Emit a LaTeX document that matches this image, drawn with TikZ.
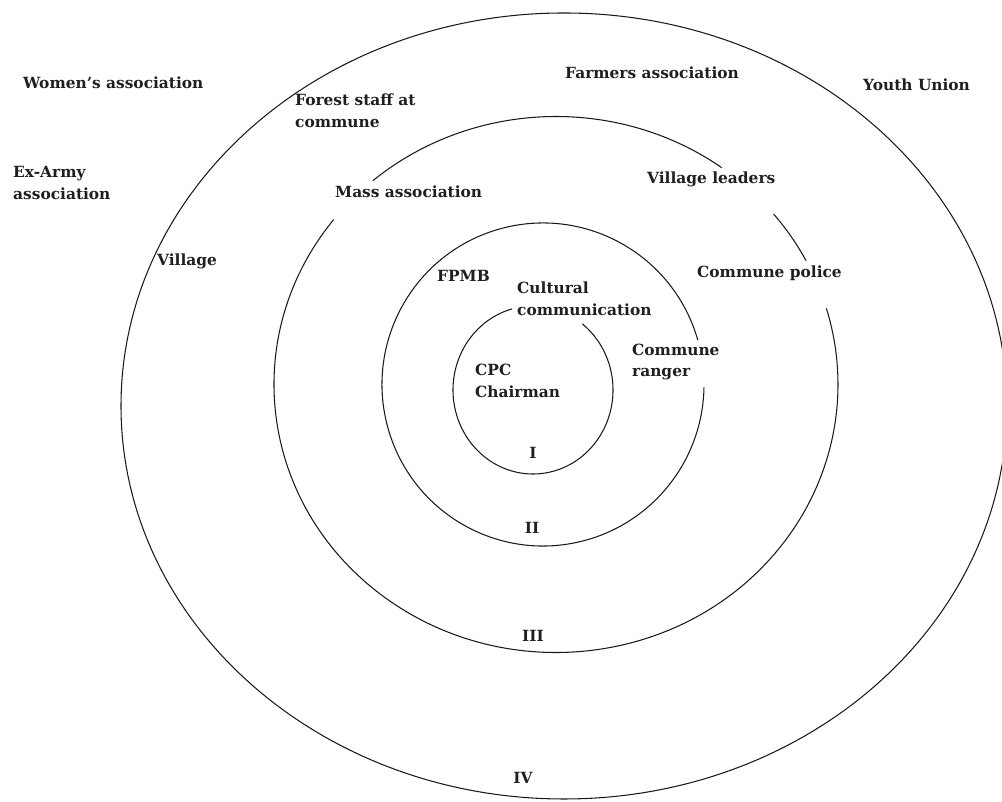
\documentclass[tikz,border=0pt]{standalone}
\usepackage{fontspec}
\setmainfont{DejaVu Serif}
\begin{document}
\begin{tikzpicture}[x=1pt,y=1pt,
  ring/.style={line width=1.05pt, draw=black!90},
  lbl/.style={inner sep=0pt, anchor=west, align=left, text=black!88,
    font=\bfseries\fontsize{15.4}{21.5}\selectfont},
  num/.style={inner sep=0pt, anchor=center, text=black!88,
    font=\bfseries\fontsize{15.4}{21.5}\selectfont}]
\useasboundingbox (0,0) rectangle (1002,802);
\clip (0,0) rectangle (1002,802);

% ring centres
\coordinate (cI)   at (533,412);
\coordinate (cII)  at (543,417.5);
\coordinate (cIII) at (556,417.5);
\coordinate (cIV)  at (564,396);

% ring I (open at the top for the label)
\draw[ring] (cI) ++(105:80 and 84) arc[start angle=105, end angle=412, x radius=80, y radius=84];
% ring II (open on the right)
\draw[ring] (cII) ++(16:161 and 161.5) arc[start angle=16, end angle=359, x radius=161, y radius=161.5];
% ring III (three openings)
\draw[ring] (cIII) ++(142:282 and 268) arc[start angle=142, end angle=376.5, x radius=282, y radius=268];
\draw[ring] (cIII) ++(27.5:282 and 268) arc[start angle=27.5, end angle=39.5, x radius=282, y radius=268];
\draw[ring] (cIII) ++(54:282 and 268) arc[start angle=54, end angle=130.5, x radius=282, y radius=268];
% ring IV
\draw[ring] (cIV) ellipse[x radius=443, y radius=393];

% labels
\node[lbl] (women)   at (23,719)   {Women's association};
\node[lbl] (exarmy)  at (13,619)   {Ex-Army\\association};
\node[lbl] (forest)  at (295,691)  {Forest staff at\\commune};
\node[lbl] (mass)    at (335,610)  {Mass association};
\node[lbl] (village) at (157,541)  {Village};
\node[lbl] (fpmb)    at (437,526)  {FPMB};
\node[lbl] (farmers) at (565,729)  {Farmers association};
\node[lbl] (youth)   at (863,717)  {Youth Union};
\node[lbl] (vleader) at (647,623)  {Village leaders};
\node[lbl] (police)  at (697,529)  {Commune police};
\node[lbl] (culture) at (517,503)  {Cultural\\communication};
\node[lbl] (ranger)  at (632,440)  {Commune\\ranger};
\node[lbl] (cpc)     at (475,421)  {CPC\\Chairman};

\node[num] (nI)   at (533,349) {I};
\node[num] (nII)  at (532,274) {II};
\node[num] (nIII) at (533,166) {III};
\node[num] (nIV)  at (523,24)  {IV};
\end{tikzpicture}
\end{document}
